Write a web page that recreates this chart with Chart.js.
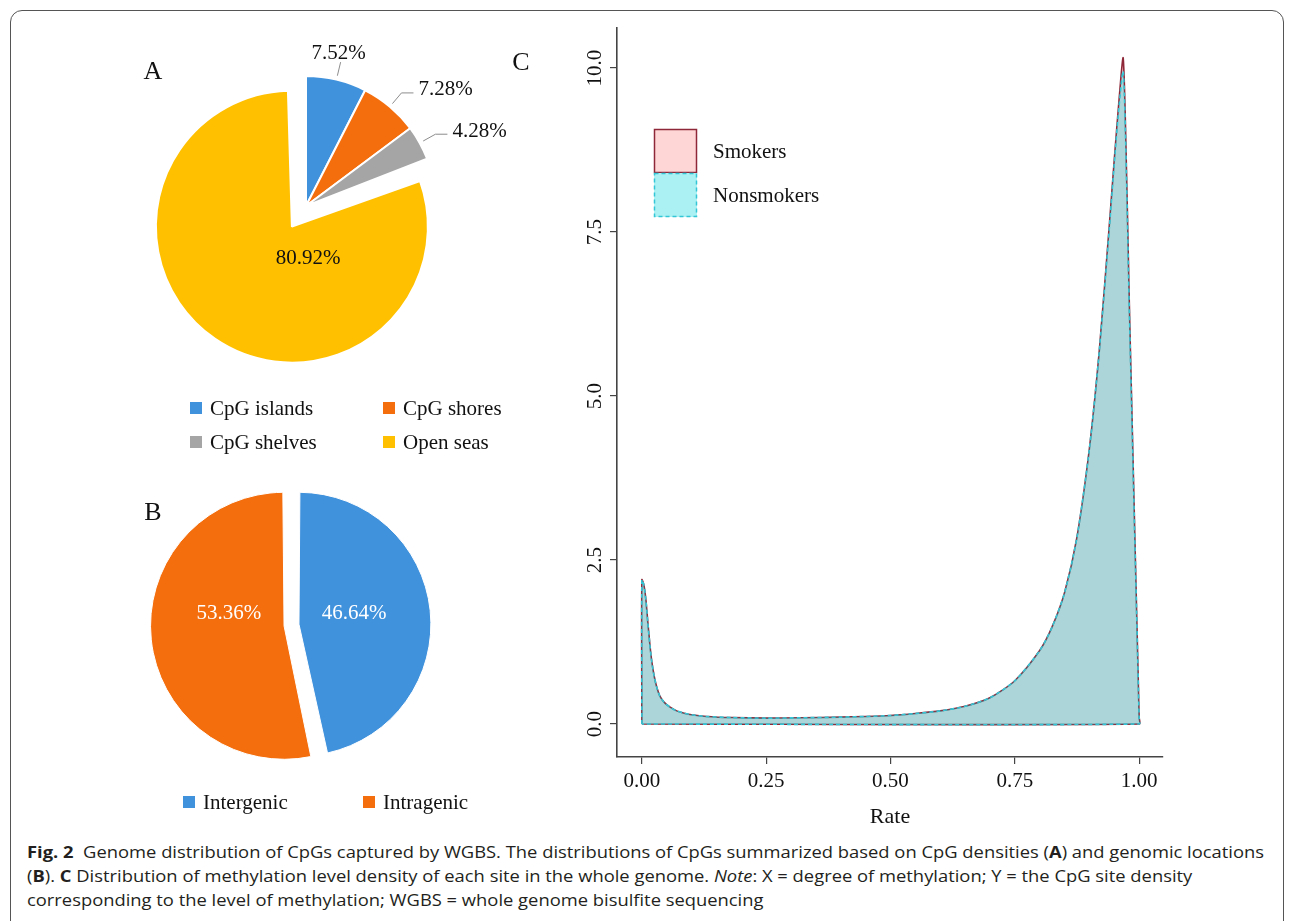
<!DOCTYPE html>
<html>
<head>
<meta charset="utf-8">
<script src="https://cdn.jsdelivr.net/npm/chart.js@4.4.1/dist/chart.umd.min.js"></script>
<style>
html, body { margin: 0; padding: 0; background: #fff; }
body { width: 1293px; height: 921px; position: relative; overflow: hidden; }
.frame { position: absolute; left: 10px; top: 10px; width: 1274px; height: 940px; border: 1px solid #555; border-radius: 12px; box-sizing: border-box; }
canvas { position: absolute; }
#pieA { left: 130px; top: 20px; }
#pieB { left: 130px; top: 470px; }
#density { left: 500px; top: 20px; }
.caption { position: absolute; left: 27px; top: 840px; font-family: "Open Sans", sans-serif; font-size: 16.5px; line-height: 24px; color: #231f20; }
.caption div { white-space: nowrap; width: max-content; transform-origin: 0 0; }
</style>
</head>
<body>
<div class="frame"></div>
<canvas id="pieA" width="430" height="450"></canvas>
<canvas id="pieB" width="430" height="360"></canvas>
<canvas id="density" width="690" height="810"></canvas>
<div class="caption" id="caption">
  <div><b>Fig. 2</b>&nbsp; Genome distribution of CpGs captured by WGBS. The distributions of CpGs summarized based on CpG densities (<b>A</b>) and genomic locations</div>
  <div>(<b>B</b>). <b>C</b> Distribution of methylation level density of each site in the whole genome. <i>Note</i>: X = degree of methylation; Y = the CpG site density</div>
  <div>corresponding to the level of methylation; WGBS = whole genome bisulfite sequencing</div>
</div>
<script>
// panel A
const densityLabels = ["CpG islands", "CpG shores", "CpG shelves", "Open seas"];
const densityShares = [7.52, 7.28, 4.28, 80.92];
// panel B
const locationLabels = ["Intergenic", "Intragenic"];
const locationShares = [46.64, 53.36];
// panel C
const rateX = [0, 0.004, 0.008, 0.012, 0.016, 0.02, 0.025, 0.03, 0.036, 0.045, 0.056, 0.07, 0.085, 0.1, 0.13, 0.18,
    0.25, 0.32, 0.4, 0.45, 0.5, 0.55, 0.6, 0.65, 0.7, 0.75, 0.8, 0.825, 0.85, 0.875, 0.9, 0.92, 0.94, 0.95, 0.96,
    0.968, 0.975, 0.98, 0.985, 0.99, 0.995, 1.0];
const smokers = [2.2, 2.12, 1.9, 1.55, 1.22, 0.95, 0.72, 0.56, 0.43, 0.33, 0.26, 0.2, 0.165, 0.14, 0.115, 0.098,
    0.09, 0.095, 0.105, 0.115, 0.13, 0.16, 0.2, 0.27, 0.4, 0.66, 1.12, 1.48, 2.0, 2.85, 4.2, 5.7, 7.6, 8.6, 9.55,
    10.15, 8.3, 6.5, 4.9, 3.3, 1.7, 0.1];
const nonsmokers = [2.2, 2.12, 1.9, 1.55, 1.22, 0.95, 0.72, 0.56, 0.43, 0.33, 0.26, 0.2, 0.165, 0.14, 0.115, 0.098,
    0.09, 0.095, 0.105, 0.115, 0.13, 0.16, 0.2, 0.27, 0.4, 0.66, 1.12, 1.48, 2.0, 2.85, 4.2, 5.7, 7.55, 8.55, 9.45,
    9.95, 8.2, 6.4, 4.85, 3.25, 1.7, 0.1];
const rateTicks = [0, 0.25, 0.5, 0.75, 1];
const densityTicks = [0, 2.5, 5, 7.5, 10];

const SERIF = '"Liberation Serif", "Times New Roman", serif';
const BLUE = "#4192dd", ORANGE = "#f46e0e", GREY = "#a5a5a5", GOLD = "#ffc000";
const INK = "#111";

function drawSquareLegend(ctx, items, x0, y0, colW, rowH, perRow) {
    ctx.save();
    ctx.font = "21px " + SERIF;
    ctx.textBaseline = "middle";
    ctx.textAlign = "left";
    items.forEach((it, i) => {
        const x = x0 + (i % perRow) * colW;
        const y = y0 + Math.floor(i / perRow) * rowH;
        ctx.fillStyle = it.color;
        ctx.fillRect(x, y - 6, 12, 12);
        ctx.fillStyle = INK;
        ctx.fillText(it.text, x + 20, y + 1);
    });
    ctx.restore();
}

function panelLetter(ctx, s, x, y) {
    ctx.save();
    ctx.font = "26px " + SERIF;
    ctx.fillStyle = INK;
    ctx.textAlign = "center";
    ctx.textBaseline = "middle";
    ctx.fillText(s, x, y);
    ctx.restore();
}

// exploded arcs get (offset/4)*fix added to their radius when drawn; take it back
// and leave just a small bulge, like the spreadsheet pie in the figure
const keepExplodedRadius = {
    id: "keepExplodedRadius",
    afterDatasetUpdate(chart, args) {
        const bulge = chart.options.plugins.keepExplodedRadius.bulge;
        args.meta.data.forEach(arc => {
            const off = (arc.options.offset || 0) / 4;
            if (!off) return;
            const fix = 1 - Math.sin(Math.min(Math.PI, arc.circumference));
            arc.outerRadius = arc.outerRadius - off * fix + bulge;
        });
    }
};

const pieAExtras = {
    id: "pieAExtras",
    afterDraw(chart) {
        const ctx = chart.ctx;
        const meta = chart.getDatasetMeta(0);
        const vals = chart.data.datasets[0].data;
        ctx.save();
        ctx.font = "21px " + SERIF;
        ctx.fillStyle = INK;
        meta.data.forEach((arc, i) => {
            const p = arc.getProps(["x", "y", "startAngle", "endAngle", "outerRadius"], true);
            const text = vals[i].toFixed(2) + "%";
            if (vals[i] > 50) {
                ctx.textAlign = "center";
                ctx.textBaseline = "middle";
                ctx.fillText(text, p.x + 2, p.y + 52);
                return;
            }
            const mid = (p.startAngle + p.endAngle) / 2;
            const dx = Math.cos(mid), dy = Math.sin(mid);
            const r = p.outerRadius;
            const x1 = p.x + dx * (r + 4), y1 = p.y + dy * (r + 4);
            const x2 = p.x + dx * (r + 18), y2 = p.y + dy * (r + 18);
            ctx.strokeStyle = "#8c8c8c";
            ctx.lineWidth = 1;
            ctx.beginPath();
            ctx.moveTo(x1, y1);
            ctx.lineTo(x2, y2);
            if (Math.abs(dx) < 0.4) {
                ctx.stroke();
                ctx.textAlign = "center";
                ctx.textBaseline = "bottom";
                ctx.fillText(text, x2 - 2, y2 + 2);
            } else {
                ctx.lineTo(x2 + 12, y2);
                ctx.stroke();
                ctx.textAlign = "left";
                ctx.textBaseline = "middle";
                ctx.fillText(text, x2 + 17, y2 - 3);
            }
        });
        ctx.restore();
        const items = densityLabels.map((t, i) => ({ text: t, color: chart.data.datasets[0].backgroundColor[i] }));
        drawSquareLegend(ctx, items, 60, 388, 193, 34, 2);
        panelLetter(ctx, "A", 23, 52);
        panelLetter(ctx, "C", 391, 43);
    }
};

const pieBExtras = {
    id: "pieBExtras",
    afterDraw(chart) {
        const ctx = chart.ctx;
        const meta = chart.getDatasetMeta(0);
        const vals = chart.data.datasets[0].data;
        ctx.save();
        ctx.font = "21px " + SERIF;
        ctx.fillStyle = "#fff";
        ctx.textAlign = "center";
        ctx.textBaseline = "middle";
        meta.data.forEach((arc, i) => {
            const p = arc.getProps(["x", "y", "startAngle", "endAngle", "outerRadius"], true);
            const mid = (p.startAngle + p.endAngle) / 2;
            ctx.fillText(vals[i].toFixed(2) + "%", p.x + Math.cos(mid) * p.outerRadius * 0.5, p.y - p.outerRadius * 0.09);
        });
        ctx.restore();
        const items = locationLabels.map((t, i) => ({ text: t, color: chart.data.datasets[0].backgroundColor[i] }));
        drawSquareLegend(ctx, items, 53, 332, 180, 34, 2);
        panelLetter(ctx, "B", 23, 43);
    }
};

new Chart(document.getElementById("pieA"), {
    type: "pie",
    data: {
        labels: densityLabels,
        datasets: [{
            data: densityShares,
            backgroundColor: [BLUE, ORANGE, GREY, GOLD],
            borderColor: "#fff",
            borderWidth: 2,
            offset: [0, 0, 0, 100]
        }]
    },
    options: {
        responsive: false,
        animation: false,
        radius: 130,
        layout: { padding: { left: 0, top: 0, right: 78, bottom: 78 } },
        plugins: { legend: { display: false }, tooltip: { enabled: false }, keepExplodedRadius: { bulge: 6 } }
    },
    plugins: [keepExplodedRadius, pieAExtras]
});

new Chart(document.getElementById("pieB"), {
    type: "pie",
    data: {
        labels: locationLabels,
        datasets: [{
            data: locationShares,
            backgroundColor: [BLUE, ORANGE],
            borderColor: "#fff",
            borderWidth: 1,
            offset: [30, 30]
        }]
    },
    options: {
        responsive: false,
        animation: false,
        radius: 126,
        layout: { padding: { left: 0, top: 0, right: 107, bottom: 50 } },
        plugins: { legend: { display: false }, tooltip: { enabled: false } }
    },
    plugins: [pieBExtras]
});

// closed polygon like R's polygon(density(...))
function densityPolygon(vals) {
    const pts = rateX.map((x, i) => ({ x, y: vals[i] }));
    const last = rateX[rateX.length - 1];
    return [{ x: rateX[0], y: 0 }, ...pts, { x: last, y: 0 }, { x: rateX[0], y: 0 }];
}

const densityExtras = {
    id: "densityExtras",
    afterDraw(chart) {
        const ctx = chart.ctx;
        const y = chart.scales.y;
        ctx.save();
        ctx.font = "21px " + SERIF;
        ctx.fillStyle = INK;
        ctx.textAlign = "center";
        ctx.textBaseline = "middle";
        y.ticks.forEach(t => {
            ctx.save();
            ctx.translate(y.right - 22, y.getPixelForValue(t.value));
            ctx.rotate(-Math.PI / 2);
            ctx.fillText(t.value.toFixed(1), 0, 0);
            ctx.restore();
        });
        // legend boxes
        const ds = chart.data.datasets;
        const bx = 154, by = 109, bw = 43, bh = 44;
        [ds[1], ds[0]].forEach((d, i) => {
            const top = by + i * bh;
            ctx.fillStyle = "#fff";
            ctx.fillRect(bx, top, bw, bh);
            ctx.fillStyle = d.backgroundColor;
            ctx.fillRect(bx, top, bw, bh);
            ctx.strokeStyle = d.borderColor;
            ctx.lineWidth = 1.5;
            ctx.setLineDash(d.borderDash || []);
            ctx.strokeRect(bx + 0.5, top + 0.5, bw - 1, bh - 1);
            ctx.setLineDash([]);
            ctx.fillStyle = INK;
            ctx.textAlign = "left";
            ctx.fillText(d.label, bx + 59, top + 23);
        });
        ctx.restore();
    }
};

new Chart(document.getElementById("density"), {
    type: "line",
    data: {
        datasets: [{
            label: "Nonsmokers",
            data: densityPolygon(nonsmokers),
            borderColor: "#33c6d6",
            borderDash: [4, 3],
            borderWidth: 1.6,
            backgroundColor: "rgba(0,210,220,0.33)",
            fill: "shape",
            pointRadius: 0,
            tension: 0.25,
            order: 0
        }, {
            label: "Smokers",
            data: densityPolygon(smokers),
            borderColor: "#8e2838",
            borderWidth: 1.6,
            backgroundColor: "rgba(255,0,0,0.16)",
            fill: "shape",
            pointRadius: 0,
            tension: 0.25,
            order: 1
        }]
    },
    options: {
        responsive: false,
        animation: false,
        layout: { padding: { left: 0, top: 8, right: 27, bottom: 0 } },
        plugins: { legend: { display: false }, tooltip: { enabled: false } },
        scales: {
            x: {
                type: "linear",
                min: -0.05,
                max: 1.048,
                afterBuildTicks: s => { s.ticks = rateTicks.map(v => ({ value: v })); },
                afterFit: s => { s.height = 73; },
                grid: { drawOnChartArea: false, drawTicks: true, tickLength: 7, color: "#444", lineWidth: 1.2 },
                border: { display: true, color: "#444", width: 1.6 },
                ticks: { font: { family: SERIF, size: 21 }, color: INK, padding: 5, maxRotation: 0, callback: v => v.toFixed(2) },
                title: { display: true, text: "Rate", font: { family: SERIF, size: 22 }, color: INK, padding: { top: 2, bottom: 0 } }
            },
            y: {
                type: "linear",
                min: -0.503,
                max: 10.61,
                afterBuildTicks: s => { s.ticks = densityTicks.map(v => ({ value: v })); },
                afterFit: s => { s.width = 117; },
                grid: { drawOnChartArea: false, drawTicks: true, tickLength: 7, color: "#444", lineWidth: 1.2 },
                border: { display: true, color: "#444", width: 1.6 },
                ticks: { display: false }
            }
        }
    },
    plugins: [densityExtras]
});

// squeeze the caption to the narrow journal face width
const cap = document.getElementById("caption");
const lines = Array.from(cap.children);
const scale = 1237 / lines[0].getBoundingClientRect().width;
lines.forEach(l => { l.style.transform = "scaleX(" + scale + ")"; });
</script>
</body>
</html>
